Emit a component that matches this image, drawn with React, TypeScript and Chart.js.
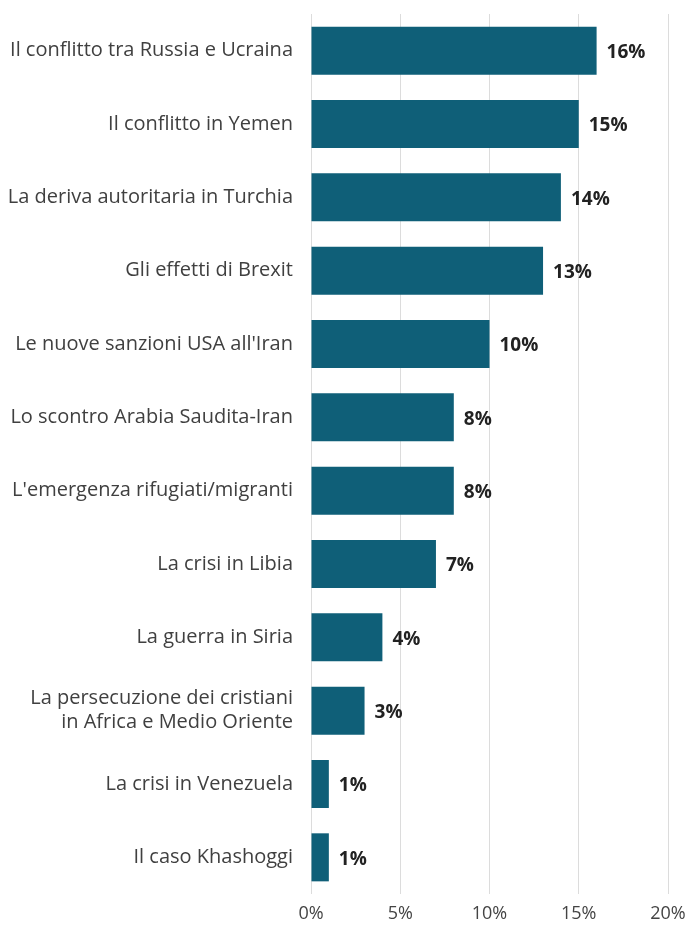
import React, { useEffect, useRef } from "react";
import { Chart, registerables } from "chart.js";

Chart.register(...registerables);

const categories: (string | string[])[] = [
  "Il conflitto tra Russia e Ucraina",
  "Il conflitto in Yemen",
  "La deriva autoritaria in Turchia",
  "Gli effetti di Brexit",
  "Le nuove sanzioni USA all'Iran",
  "Lo scontro Arabia Saudita-Iran",
  "L'emergenza rifugiati/migranti",
  "La crisi in Libia",
  "La guerra in Siria",
  ["La persecuzione dei cristiani", "in Africa e Medio Oriente"],
  "La crisi in Venezuela",
  "Il caso Khashoggi",
];
const values: number[] = [16, 15, 14, 13, 10, 8, 8, 7, 4, 3, 1, 1];
const xTicks: number[] = [0, 5, 10, 15, 20];

const valueLabels = {
  id: "valueLabels",
  afterDatasetsDraw(chart: any) {
    const ctx = chart.ctx;
    const meta = chart.getDatasetMeta(0);
    ctx.save();
    ctx.font = "bold 19px 'Open Sans'";
    ctx.fillStyle = "#222222";
    ctx.textAlign = "left";
    ctx.textBaseline = "middle";
    meta.data.forEach((el: any, i: number) => {
      ctx.fillText(values[i] + "%", el.x + 10, el.y + 2);
    });
    ctx.restore();
  },
};

export default function App() {
  const ref = useRef<HTMLCanvasElement | null>(null);
  useEffect(() => {
    document.body.style.margin = "0";
    const chart = new Chart(ref.current!, {
      type: "bar",
      data: {
        labels: categories,
        datasets: [
          {
            data: values,
            backgroundColor: "#0f5f78",
            barPercentage: 0.655,
            categoryPercentage: 1,
          },
        ],
      },
      plugins: [valueLabels],
      options: {
        indexAxis: "y",
        animation: false,
        responsive: false,
        maintainAspectRatio: false,
        layout: { padding: { top: 14, right: 22, left: 0, bottom: 0 } },
        plugins: { legend: { display: false }, tooltip: { enabled: false } },
        scales: {
          x: {
            min: 0,
            max: 20,
            afterBuildTicks(scale: any) {
              scale.ticks = xTicks.map((v) => ({ value: v }));
            },
            grid: { color: "#dcdcdc", drawTicks: false, lineWidth: 1 },
            border: { display: false },
            ticks: {
              padding: 9,
              color: "#444444",
              font: { family: "'Open Sans'", size: 18 },
              callback: (v: any) => v + "%",
            },
            afterFit(scale: any) {
              scale.height = 34;
              scale.paddingLeft = 0;
              scale.paddingRight = 0;
            },
          },
          y: {
            grid: { display: false, drawTicks: false },
            border: { display: false },
            ticks: {
              padding: 18,
              color: "#404040",
              font: { family: "'Open Sans'", size: 20, lineHeight: 1.2 },
            },
            afterFit(scale: any) {
              scale.width = 311;
              scale.paddingTop = 0;
              scale.paddingBottom = 0;
            },
          },
        },
      },
    });
    return () => chart.destroy();
  }, []);
  return <canvas ref={ref} width={690} height={928} style={{ display: "block" }} />;
}
